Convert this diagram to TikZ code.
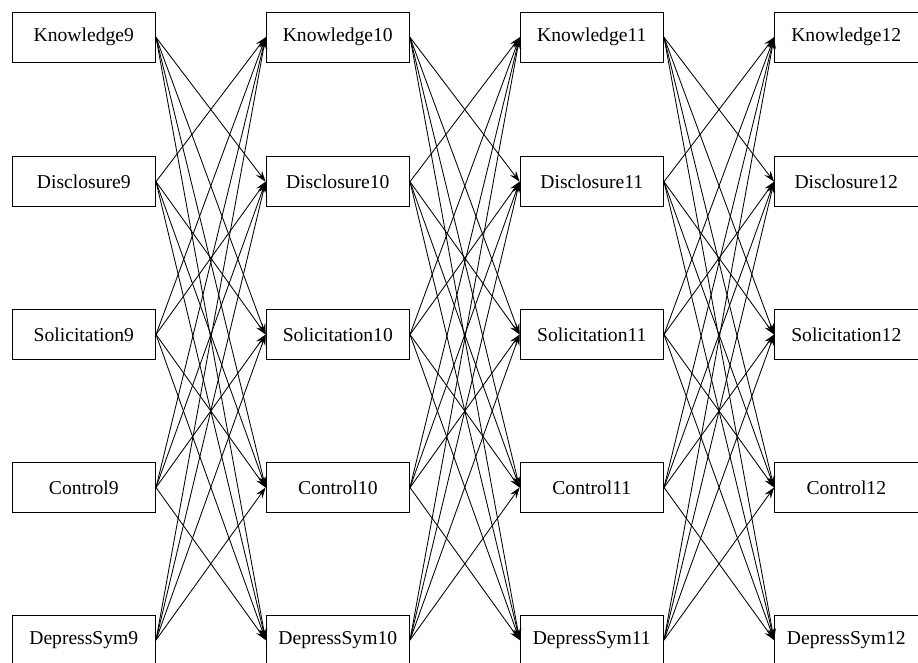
\documentclass[tikz,border=0pt]{standalone}
\usepackage{fontspec}
\setmainfont{Liberation Serif}
\usetikzlibrary{arrows.meta}
\begin{document}
\begin{tikzpicture}[x=1pt,y=-1pt,
  var/.style={draw, line width=0.9pt, minimum width=143.5pt, minimum height=50pt,
    inner sep=0pt, font=\fontsize{19.6}{22}\selectfont},
  link/.style={line width=0.85pt, -{Stealth[length=11pt,width=7.5pt,inset=4pt]}}]
\useasboundingbox (0,0) rectangle (918,662);
\foreach \c/\num/\x in {1/9/83.8, 2/10/337.8, 3/11/591.8, 4/12/846.3} {
  \foreach \r/\lab/\y in {1/Knowledge/37.3, 2/Disclosure/181.7, 3/Solicitation/334.5, 4/Control/487.5, 5/DepressSym/640} {
    \node[var] (n\c\r) at (\x,\y) {\lab\num};
  }
}
\foreach \c/\d in {1/2, 2/3, 3/4} {
  \foreach \i in {1,...,5} {
    \foreach \j in {1,...,5} {
      \ifnum\i=\j\else
        \draw[link] (n\c\i.east) -- (n\d\j.west);
      \fi
    }
  }
}
\end{tikzpicture}
\end{document}
